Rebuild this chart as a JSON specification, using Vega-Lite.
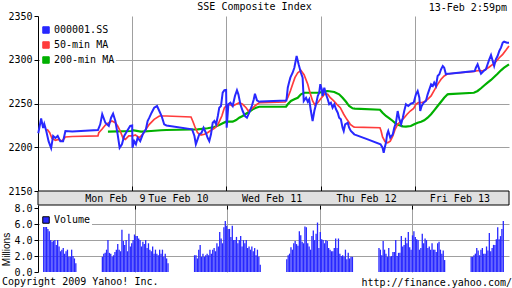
{
  "$schema": "https://vega.github.io/schema/vega-lite/v6.json",
  "padding": {"left": 1, "top": 2, "right": 4, "bottom": 0},
  "background": "white",
  "bounds": "flush",
  "spacing": 0,
  "config": {
    "font": "DejaVu Sans Mono",
    "view": {"stroke": null},
    "axis": {"labelFont": "DejaVu Sans Mono", "labelFontSize": 10, "labelColor": "black", "titleFont": "Liberation Sans", "titleFontSize": 10, "titleFontWeight": "normal", "titleColor": "black", "domainColor": "black", "tickColor": "black", "gridColor": "#a0a0a0", "gridOpacity": 1},
    "title": {"font": "DejaVu Sans Mono", "fontSize": 10, "fontWeight": "normal", "color": "black"},
    "legend": {"labelFont": "DejaVu Sans Mono", "labelFontSize": 10, "labelColor": "black"}
  },
  "title": {"text": "Copyright 2009 Yahoo! Inc.", "orient": "bottom", "anchor": "start", "frame": "bounds", "offset": -11},
  "datasets": {
    "ma200": [{"m":245,"p":2217.8},{"m":329,"p":2218.6},{"m":331,"p":2219.4},{"m":361,"p":2217.8},{"m":396,"p":2218.6},{"m":431,"p":2219.4},{"m":450,"p":2219.7},{"m":540,"p":2220.3},{"m":559,"p":2220.5},{"m":594,"p":2221.7},{"m":618,"p":2223.1},{"m":635,"p":2225.4},{"m":647,"p":2227.4},{"m":659,"p":2229.2},{"m":682,"p":2229.2},{"m":694,"p":2231.1},{"m":705,"p":2233.8},{"m":717,"p":2235.7},{"m":729,"p":2238.3},{"m":740,"p":2240.6},{"m":752,"p":2243.4},{"m":764,"p":2245.2},{"m":775,"p":2246.3},{"m":780,"p":2246.3},{"m":869,"p":2246.3},{"m":875,"p":2249.1},{"m":886,"p":2252.9},{"m":898,"p":2254.8},{"m":910,"p":2256.6},{"m":921,"p":2260.5},{"m":933,"p":2262.3},{"m":980,"p":2262.3},{"m":989,"p":2262.6},{"m":997,"p":2263.5},{"m":1015,"p":2264.3},{"m":1038,"p":2263.1},{"m":1055,"p":2260.5},{"m":1067,"p":2256.6},{"m":1079,"p":2252},{"m":1090,"p":2247.1},{"m":1102,"p":2244.5},{"m":1110,"p":2244.1},{"m":1198,"p":2242.9},{"m":1207,"p":2239.5},{"m":1219,"p":2235.7},{"m":1231,"p":2233.1},{"m":1243,"p":2230},{"m":1254,"p":2226.9},{"m":1266,"p":2225.1},{"m":1278,"p":2223.9},{"m":1289,"p":2223.5},{"m":1306,"p":2224.3},{"m":1318,"p":2226.2},{"m":1330,"p":2228},{"m":1342,"p":2229.2},{"m":1353,"p":2230.8},{"m":1365,"p":2233.8},{"m":1377,"p":2237.7},{"m":1388,"p":2242.2},{"m":1400,"p":2247.1},{"m":1412,"p":2252},{"m":1423,"p":2256.6},{"m":1435,"p":2260.5},{"m":1440,"p":2260.8},{"m":1527,"p":2262.3},{"m":1540,"p":2264.3},{"m":1552,"p":2267.4},{"m":1563,"p":2270.6},{"m":1575,"p":2273.8},{"m":1587,"p":2276.9},{"m":1598,"p":2280.3},{"m":1610,"p":2284},{"m":1622,"p":2287.9},{"m":1633,"p":2290.9},{"m":1650,"p":2294.8}],
    "ma50": [{"m":32,"p":2220.5},{"m":41,"p":2216.6},{"m":49,"p":2210.2},{"m":61,"p":2208},{"m":72,"p":2209},{"m":84,"p":2207},{"m":96,"p":2211.7},{"m":120,"p":2212.3},{"m":210,"p":2212.9},{"m":213,"p":2216.6},{"m":224,"p":2220.5},{"m":236,"p":2225.4},{"m":248,"p":2228},{"m":259,"p":2230},{"m":271,"p":2228},{"m":279,"p":2224.3},{"m":288,"p":2218.6},{"m":298,"p":2210.2},{"m":306,"p":2209},{"m":318,"p":2212.9},{"m":329,"p":2212.9},{"m":331,"p":2212.9},{"m":341,"p":2214},{"m":355,"p":2210.9},{"m":367,"p":2214.8},{"m":378,"p":2220.5},{"m":390,"p":2226.2},{"m":407,"p":2231.9},{"m":425,"p":2235.7},{"m":450,"p":2235.7},{"m":536,"p":2234.6},{"m":542,"p":2230},{"m":550,"p":2223.1},{"m":559,"p":2216.6},{"m":571,"p":2214},{"m":583,"p":2214.8},{"m":594,"p":2216.6},{"m":606,"p":2219.4},{"m":618,"p":2221.7},{"m":627,"p":2224.3},{"m":635,"p":2229.2},{"m":644,"p":2235.7},{"m":653,"p":2245.2},{"m":659,"p":2247.1},{"m":662,"p":2245.2},{"m":670,"p":2249.1},{"m":682,"p":2247.1},{"m":694,"p":2249.1},{"m":705,"p":2250.9},{"m":717,"p":2249.1},{"m":729,"p":2245.2},{"m":737,"p":2241.4},{"m":746,"p":2243.4},{"m":756,"p":2246},{"m":764,"p":2248.3},{"m":775,"p":2250.9},{"m":780,"p":2251.1},{"m":866,"p":2251.7},{"m":875,"p":2256.6},{"m":884,"p":2264.3},{"m":892,"p":2271.9},{"m":900,"p":2279.5},{"m":910,"p":2285.2},{"m":921,"p":2287.9},{"m":932,"p":2283},{"m":945,"p":2272},{"m":954,"p":2261},{"m":962,"p":2252.9},{"m":970,"p":2248.3},{"m":980,"p":2250.9},{"m":989,"p":2254.8},{"m":1005,"p":2261.2},{"m":1015,"p":2260.5},{"m":1024,"p":2256.6},{"m":1036,"p":2252.9},{"m":1047,"p":2249.1},{"m":1059,"p":2245.2},{"m":1071,"p":2237.7},{"m":1082,"p":2231.9},{"m":1094,"p":2226.2},{"m":1106,"p":2223.1},{"m":1110,"p":2223},{"m":1198,"p":2222.3},{"m":1202,"p":2218.6},{"m":1207,"p":2211.7},{"m":1216,"p":2206.3},{"m":1225,"p":2205.2},{"m":1234,"p":2207},{"m":1243,"p":2212.9},{"m":1251,"p":2220.5},{"m":1260,"p":2226.2},{"m":1272,"p":2230},{"m":1283,"p":2233.8},{"m":1293,"p":2237.7},{"m":1304,"p":2241.4},{"m":1316,"p":2244.5},{"m":1324,"p":2249.1},{"m":1332,"p":2250.9},{"m":1342,"p":2250.9},{"m":1353,"p":2252},{"m":1365,"p":2254.8},{"m":1377,"p":2258.6},{"m":1388,"p":2265.1},{"m":1400,"p":2271.9},{"m":1412,"p":2277.7},{"m":1423,"p":2281.4},{"m":1435,"p":2284},{"m":1440,"p":2284},{"m":1527,"p":2286.6},{"m":1534,"p":2287.1},{"m":1546,"p":2287.9},{"m":1558,"p":2287.1},{"m":1569,"p":2289.1},{"m":1581,"p":2291.7},{"m":1593,"p":2294.8},{"m":1604,"p":2297.8},{"m":1616,"p":2302.3},{"m":1628,"p":2306.2},{"m":1639,"p":2310.8},{"m":1650,"p":2315.7}],
    "px": [{"m":1,"p":2216},{"m":11,"p":2232.9},{"m":18,"p":2222},{"m":22,"p":2226.6},{"m":29,"p":2218.6},{"m":37,"p":2207},{"m":46,"p":2199},{"m":53,"p":2212.9},{"m":61,"p":2210.6},{"m":69,"p":2212.9},{"m":78,"p":2207},{"m":88,"p":2207},{"m":96,"p":2218.6},{"m":120,"p":2218},{"m":210,"p":2219.7},{"m":218,"p":2226.2},{"m":225,"p":2237.7},{"m":236,"p":2228},{"m":248,"p":2224.3},{"m":256,"p":2233.8},{"m":263,"p":2238.3},{"m":271,"p":2230},{"m":279,"p":2214.8},{"m":286,"p":2199.5},{"m":294,"p":2203.4},{"m":302,"p":2212.9},{"m":312,"p":2218.6},{"m":323,"p":2224.3},{"m":330,"p":2224.9},{"m":331,"p":2199.5},{"m":337,"p":2207},{"m":343,"p":2203.4},{"m":349,"p":2210.9},{"m":358,"p":2207},{"m":367,"p":2214.8},{"m":378,"p":2220.5},{"m":384,"p":2230},{"m":390,"p":2233.8},{"m":398,"p":2239.5},{"m":407,"p":2245.2},{"m":417,"p":2247.1},{"m":425,"p":2241.4},{"m":433,"p":2235.7},{"m":442,"p":2226.2},{"m":450,"p":2224.9},{"m":540,"p":2220.5},{"m":548,"p":2212.9},{"m":553,"p":2203.4},{"m":559,"p":2209},{"m":565,"p":2214.8},{"m":573,"p":2216.6},{"m":580,"p":2222.3},{"m":588,"p":2216.6},{"m":594,"p":2210.9},{"m":600,"p":2207},{"m":606,"p":2214.8},{"m":612,"p":2228},{"m":618,"p":2230},{"m":624,"p":2226.2},{"m":630,"p":2235.7},{"m":635,"p":2245.2},{"m":641,"p":2247.1},{"m":647,"p":2262.3},{"m":653,"p":2265.1},{"m":659,"p":2265.4},{"m":661,"p":2222.3},{"m":667,"p":2249.1},{"m":674,"p":2250.9},{"m":682,"p":2247.1},{"m":690,"p":2258.6},{"m":697,"p":2265.1},{"m":702,"p":2260.5},{"m":709,"p":2249.1},{"m":717,"p":2241.4},{"m":725,"p":2235.7},{"m":732,"p":2233.8},{"m":740,"p":2239.5},{"m":749,"p":2247.1},{"m":756,"p":2254.8},{"m":760,"p":2261.2},{"m":767,"p":2253.7},{"m":775,"p":2252},{"m":780,"p":2252.3},{"m":870,"p":2253.4},{"m":872,"p":2258.6},{"m":875,"p":2268},{"m":879,"p":2273.4},{"m":884,"p":2279.5},{"m":892,"p":2285.2},{"m":898,"p":2290.9},{"m":906,"p":2304.3},{"m":913,"p":2294.8},{"m":921,"p":2285.2},{"m":927,"p":2279.5},{"m":931,"p":2252.9},{"m":939,"p":2256.6},{"m":945,"p":2252},{"m":950,"p":2254.8},{"m":956,"p":2241.4},{"m":962,"p":2230},{"m":968,"p":2241.4},{"m":974,"p":2249.1},{"m":980,"p":2258.6},{"m":985,"p":2262.3},{"m":989,"p":2272},{"m":994,"p":2266.2},{"m":997,"p":2258.6},{"m":1003,"p":2268},{"m":1009,"p":2260.5},{"m":1015,"p":2254.8},{"m":1020,"p":2249.1},{"m":1026,"p":2250.9},{"m":1032,"p":2245.2},{"m":1038,"p":2249.1},{"m":1044,"p":2243.4},{"m":1050,"p":2239.5},{"m":1055,"p":2233.8},{"m":1061,"p":2231.9},{"m":1067,"p":2222.3},{"m":1071,"p":2218.6},{"m":1076,"p":2226.2},{"m":1085,"p":2228},{"m":1090,"p":2222.3},{"m":1096,"p":2218.6},{"m":1108,"p":2214.8},{"m":1110,"p":2214.5},{"m":1155,"p":2209},{"m":1200,"p":2203.4},{"m":1207,"p":2199.5},{"m":1211,"p":2193.8},{"m":1216,"p":2201.4},{"m":1219,"p":2205.2},{"m":1223,"p":2214.8},{"m":1227,"p":2218.6},{"m":1234,"p":2210.9},{"m":1243,"p":2214.8},{"m":1248,"p":2222.3},{"m":1254,"p":2228},{"m":1260,"p":2241.4},{"m":1266,"p":2231.9},{"m":1272,"p":2226.2},{"m":1278,"p":2233.8},{"m":1283,"p":2241.4},{"m":1289,"p":2249.1},{"m":1297,"p":2247.1},{"m":1306,"p":2249.8},{"m":1316,"p":2250.9},{"m":1324,"p":2260.5},{"m":1330,"p":2264.3},{"m":1336,"p":2256.6},{"m":1339,"p":2241.4},{"m":1344,"p":2247.1},{"m":1351,"p":2250.9},{"m":1359,"p":2252.9},{"m":1365,"p":2260.5},{"m":1371,"p":2266.2},{"m":1377,"p":2272},{"m":1383,"p":2270},{"m":1388,"p":2273.8},{"m":1394,"p":2270},{"m":1400,"p":2281.4},{"m":1406,"p":2283.4},{"m":1412,"p":2289.1},{"m":1418,"p":2292.9},{"m":1423,"p":2290.9},{"m":1429,"p":2283.4},{"m":1435,"p":2284},{"m":1440,"p":2284},{"m":1530,"p":2287.1},{"m":1534,"p":2290.9},{"m":1540,"p":2294.8},{"m":1546,"p":2289.1},{"m":1552,"p":2284},{"m":1561,"p":2287.1},{"m":1569,"p":2289.1},{"m":1575,"p":2294.8},{"m":1581,"p":2300.5},{"m":1587,"p":2305.4},{"m":1593,"p":2298.6},{"m":1598,"p":2292.9},{"m":1604,"p":2300.5},{"m":1610,"p":2304.3},{"m":1616,"p":2310},{"m":1622,"p":2313.8},{"m":1628,"p":2319.5},{"m":1633,"p":2320.6},{"m":1643,"p":2319.5},{"m":1650,"p":2319.5}],
    "days": [{"m":271,"label":"Mon Feb\u00a0 9"},{"m":492,"label":"Tue Feb 10"},{"m":820,"label":"Wed Feb 11"},{"m":1151,"label":"Thu Feb 12"},{"m":1478,"label":"Fri Feb 13"}],
    "vol": [
      {"m":2.5,"v":6.9},{"m":7.5,"v":6.2},{"m":12.5,"v":6.0},{"m":17.5,"v":5.4},{"m":22.5,"v":5.1},{"m":27.5,"v":4.0},{"m":32.5,"v":3.8},{"m":37.5,"v":3.9},{"m":42.5,"v":4.0},{"m":47.5,"v":3.4},{"m":52.5,"v":4.0},{"m":57.5,"v":3.2},{"m":62.5,"v":2.6},{"m":67.5,"v":2.8},{"m":72.5,"v":3.0},{"m":77.5,"v":2.3},{"m":82.5,"v":2.6},{"m":87.5,"v":2.8},{"m":92.5,"v":1.9},{"m":97.5,"v":1.9},{"m":102.5,"v":2.8},{"m":107.5,"v":2.0},{"m":112.5,"v":1.7},{"m":117.5,"v":1.1},
      {"m":212.5,"v":1.9},{"m":217.5,"v":2.3},{"m":222.5,"v":2.4},{"m":227.5,"v":2.8},{"m":232.5,"v":4.0},{"m":237.5,"v":2.4},{"m":242.5,"v":2.3},{"m":247.5,"v":1.9},{"m":252.5,"v":2.1},{"m":257.5,"v":2.5},{"m":262.5,"v":2.8},{"m":267.5,"v":3.5},{"m":272.5,"v":2.8},{"m":277.5,"v":2.6},{"m":282.5,"v":5.3},{"m":287.5,"v":3.9},{"m":292.5,"v":3.4},{"m":297.5,"v":4.0},{"m":302.5,"v":2.6},{"m":307.5,"v":4.8},{"m":312.5,"v":3.2},{"m":317.5,"v":3.6},{"m":322.5,"v":4.0},{"m":327.5,"v":4.7},
      {"m":332.5,"v":4.5},{"m":337.5,"v":4.5},{"m":342.5,"v":4.2},{"m":347.5,"v":4.0},{"m":352.5,"v":3.2},{"m":357.5,"v":3.8},{"m":362.5,"v":3.5},{"m":367.5,"v":4.0},{"m":372.5,"v":3.0},{"m":377.5,"v":3.6},{"m":382.5,"v":2.8},{"m":387.5,"v":2.6},{"m":392.5,"v":3.2},{"m":397.5,"v":2.3},{"m":402.5,"v":2.8},{"m":407.5,"v":2.3},{"m":412.5,"v":2.1},{"m":417.5,"v":2.8},{"m":422.5,"v":2.3},{"m":427.5,"v":2.8},{"m":432.5,"v":1.9},{"m":437.5,"v":2.3},{"m":442.5,"v":1.7},{"m":447.5,"v":1.1},
      {"m":542.5,"v":2.1},{"m":547.5,"v":2.1},{"m":552.5,"v":1.7},{"m":557.5,"v":2.8},{"m":562.5,"v":3.4},{"m":567.5,"v":1.9},{"m":572.5,"v":2.3},{"m":577.5,"v":1.9},{"m":582.5,"v":2.1},{"m":587.5,"v":2.3},{"m":592.5,"v":2.1},{"m":597.5,"v":2.8},{"m":602.5,"v":2.3},{"m":607.5,"v":2.8},{"m":612.5,"v":3.0},{"m":617.5,"v":2.6},{"m":622.5,"v":3.6},{"m":627.5,"v":3.2},{"m":632.5,"v":5.0},{"m":637.5,"v":4.2},{"m":642.5,"v":3.6},{"m":647.5,"v":5.6},{"m":652.5,"v":6.4},{"m":657.5,"v":5.8},
      {"m":662.5,"v":5.4},{"m":667.5,"v":5.4},{"m":672.5,"v":4.4},{"m":677.5,"v":5.8},{"m":682.5,"v":4.0},{"m":687.5,"v":4.0},{"m":692.5,"v":4.4},{"m":697.5,"v":3.6},{"m":702.5,"v":4.0},{"m":707.5,"v":4.5},{"m":712.5,"v":3.2},{"m":717.5,"v":4.0},{"m":722.5,"v":3.6},{"m":727.5,"v":4.0},{"m":732.5,"v":3.0},{"m":737.5,"v":3.2},{"m":742.5,"v":2.8},{"m":747.5,"v":3.2},{"m":752.5,"v":2.6},{"m":757.5,"v":3.0},{"m":762.5,"v":2.1},{"m":767.5,"v":2.8},{"m":772.5,"v":1.9},{"m":777.5,"v":0.9},
      {"m":872.5,"v":1.6},{"m":877.5,"v":2.1},{"m":882.5,"v":2.3},{"m":887.5,"v":3.1},{"m":892.5,"v":2.8},{"m":897.5,"v":3.6},{"m":902.5,"v":3.9},{"m":907.5,"v":3.5},{"m":912.5,"v":3.3},{"m":917.5,"v":5.1},{"m":922.5,"v":4.6},{"m":927.5,"v":3.8},{"m":932.5,"v":3.6},{"m":937.5,"v":5.7},{"m":942.5,"v":5.6},{"m":947.5,"v":3.6},{"m":952.5,"v":3.2},{"m":957.5,"v":2.8},{"m":962.5,"v":4.5},{"m":967.5,"v":5.2},{"m":972.5,"v":4.0},{"m":977.5,"v":4.8},{"m":982.5,"v":6.2},{"m":987.5,"v":3.0},
      {"m":992.5,"v":5.0},{"m":997.5,"v":4.1},{"m":1002.5,"v":4.0},{"m":1007.5,"v":3.6},{"m":1012.5,"v":4.0},{"m":1017.5,"v":3.9},{"m":1022.5,"v":3.0},{"m":1027.5,"v":2.8},{"m":1032.5,"v":2.6},{"m":1037.5,"v":2.6},{"m":1042.5,"v":3.0},{"m":1047.5,"v":4.2},{"m":1052.5,"v":3.0},{"m":1057.5,"v":4.2},{"m":1062.5,"v":2.3},{"m":1067.5,"v":2.0},{"m":1072.5,"v":2.1},{"m":1077.5,"v":1.9},{"m":1082.5,"v":2.8},{"m":1087.5,"v":1.6},{"m":1092.5,"v":2.4},{"m":1097.5,"v":1.7},{"m":1102.5,"v":1.9},{"m":1107.5,"v":1.9},
      {"m":1202.5,"v":3.0},{"m":1207.5,"v":2.8},{"m":1212.5,"v":2.1},{"m":1217.5,"v":3.9},{"m":1222.5,"v":2.8},{"m":1227.5,"v":2.3},{"m":1232.5,"v":1.9},{"m":1237.5,"v":3.0},{"m":1242.5,"v":1.9},{"m":1247.5,"v":2.0},{"m":1252.5,"v":2.5},{"m":1257.5,"v":2.5},{"m":1262.5,"v":4.0},{"m":1267.5,"v":2.0},{"m":1272.5,"v":2.4},{"m":1277.5,"v":2.4},{"m":1282.5,"v":4.5},{"m":1287.5,"v":3.2},{"m":1292.5,"v":3.4},{"m":1297.5,"v":4.3},{"m":1302.5,"v":3.6},{"m":1307.5,"v":5.0},{"m":1312.5,"v":3.1},{"m":1317.5,"v":2.8},
      {"m":1322.5,"v":4.6},{"m":1327.5,"v":5.1},{"m":1332.5,"v":4.4},{"m":1337.5,"v":4.1},{"m":1342.5,"v":4.0},{"m":1347.5,"v":2.8},{"m":1352.5,"v":3.0},{"m":1357.5,"v":4.8},{"m":1362.5,"v":3.6},{"m":1367.5,"v":4.2},{"m":1372.5,"v":4.0},{"m":1377.5,"v":3.0},{"m":1382.5,"v":3.2},{"m":1387.5,"v":2.8},{"m":1392.5,"v":3.6},{"m":1397.5,"v":2.8},{"m":1402.5,"v":2.8},{"m":1407.5,"v":2.5},{"m":1412.5,"v":3.6},{"m":1417.5,"v":3.8},{"m":1422.5,"v":2.8},{"m":1427.5,"v":2.3},{"m":1432.5,"v":2.7},{"m":1437.5,"v":1.5},
      {"m":1532.5,"v":1.9},{"m":1537.5,"v":1.9},{"m":1542.5,"v":2.1},{"m":1547.5,"v":2.3},{"m":1552.5,"v":3.0},{"m":1557.5,"v":2.7},{"m":1562.5,"v":2.1},{"m":1567.5,"v":2.8},{"m":1572.5,"v":3.0},{"m":1577.5,"v":2.3},{"m":1582.5,"v":2.3},{"m":1587.5,"v":3.2},{"m":1592.5,"v":2.7},{"m":1597.5,"v":4.9},{"m":1602.5,"v":2.6},{"m":1607.5,"v":3.0},{"m":1612.5,"v":3.4},{"m":1617.5,"v":3.4},{"m":1622.5,"v":4.1},{"m":1627.5,"v":5.6},{"m":1632.5,"v":4.1},{"m":1637.5,"v":4.5},{"m":1642.5,"v":5.4},{"m":1647.5,"v":6.4}
    ]
  },
  "vconcat": [
    {
      "name": "price",
      "width": 471,
      "height": 175,
      "title": {"text": "SSE Composite Index", "anchor": "middle", "frame": "group", "offset": -9, "dx": -19},
      "layer": [
        {
          "data": {"name": "ma200"},
          "mark": {"type": "line", "strokeWidth": 2.2},
          "encoding": {
            "x": {"field": "m", "type": "quantitative", "scale": {"domain": [0, 1650], "nice": false, "zero": false},
                  "axis": {"orient": "bottom", "values": [330, 660, 990, 1320], "labels": false, "domain": false, "ticks": true, "tickSize": -5, "grid": true, "title": null}},
            "y": {"field": "p", "type": "quantitative", "scale": {"domain": [2150, 2350], "nice": false, "zero": false},
                  "axis": {"values": [2150, 2200, 2250, 2300, 2350], "format": "d", "title": null, "tickSize": 4, "labelPadding": 2,
                           "gridColor": {"condition": {"test": "datum.value == 2350 || datum.value == 2150", "value": "transparent"}, "value": "#a0a0a0"}}},
            "color": {"datum": "200-min MA", "type": "nominal",
                      "scale": {"domain": ["000001.SS", "50-min MA", "200-min MA"], "range": ["#2828ff", "#ff3c3c", "#00b000"]},
                      "legend": {"title": null, "orient": "none", "legendX": 2, "legendY": 8, "symbolType": "square", "symbolSize": 42, "fillColor": "white", "padding": 1, "rowPadding": 3, "labelOffset": 3,
                                 "encode": {"symbols": {"update": {"fill": {"signal": "datum.value === '000001.SS' ? '#2828ff' : datum.value === '50-min MA' ? '#ff3c3c' : '#00b000'"}, "stroke": {"value": "black"}, "strokeWidth": {"value": 1}, "opacity": {"value": 1}}}}}}
          }
        },
        {
          "data": {"name": "ma50"},
          "mark": {"type": "line", "strokeWidth": 1.7},
          "encoding": {
            "x": {"field": "m", "type": "quantitative"},
            "y": {"field": "p", "type": "quantitative"},
            "color": {"datum": "50-min MA", "type": "nominal"}
          }
        },
        {
          "data": {"name": "px"},
          "mark": {"type": "line", "strokeWidth": 2},
          "encoding": {
            "x": {"field": "m", "type": "quantitative"},
            "y": {"field": "p", "type": "quantitative"},
            "color": {"datum": "000001.SS", "type": "nominal"}
          }
        },
        {
          "data": {"values": [{}]},
          "mark": {"type": "text", "align": "right", "baseline": "bottom", "dy": -3, "dx": -2, "font": "DejaVu Sans Mono", "fontSize": 10, "color": "black"},
          "encoding": {
            "x": {"datum": 1650, "type": "quantitative"},
            "y": {"datum": 2350, "type": "quantitative"},
            "text": {"value": "13-Feb 2:59pm"}
          }
        }
      ]
    },
    {
      "width": 471,
      "height": 14,
      "layer": [
        {
          "data": {"values": [{}]},
          "mark": {"type": "rect", "fill": "#e0e0e0", "stroke": "black", "strokeWidth": 1},
          "encoding": {
            "x": {"datum": 0, "type": "quantitative", "scale": {"domain": [0, 1650], "nice": false, "zero": false}, "axis": null},
            "x2": {"datum": 1650}
          }
        },
        {
          "data": {"name": "days"},
          "mark": {"type": "text", "font": "DejaVu Sans Mono", "fontSize": 10, "color": "black", "baseline": "middle", "dy": 1},
          "encoding": {
            "x": {"field": "m", "type": "quantitative"},
            "text": {"field": "label"}
          }
        }
      ]
    },
    {
      "name": "vol",
      "width": 471,
      "height": 67,
      "title": {"text": "http://finance.yahoo.com/", "orient": "bottom", "anchor": "end", "frame": "group", "offset": 1, "dx": 3},
      "data": {"name": "vol"},
      "mark": {"type": "bar", "size": 1.3},
      "encoding": {
        "x": {"field": "m", "type": "quantitative", "scale": {"domain": [0, 1650], "nice": false, "zero": false},
              "axis": {"orient": "top", "values": [330, 660, 990, 1320], "labels": false, "domain": false, "tickSize": -4, "grid": true, "title": null}},
        "y": {"field": "v", "type": "quantitative", "scale": {"domain": [0, 8.4], "nice": false},
              "axis": {"values": [0, 2, 4, 6, 8], "format": ".1f", "title": "Millions", "titlePadding": 2, "titleY": 44, "tickSize": 4, "labelPadding": 2,
                       "gridColor": {"condition": {"test": "datum.value == 0 || datum.value == 8", "value": "transparent"}, "value": "#a0a0a0"}}},
        "color": {"datum": "Volume", "type": "nominal", "scale": {"domain": ["Volume"], "range": ["#2828ff"]},
                  "legend": {"title": null, "orient": "none", "legendX": 2, "legendY": 9, "symbolType": "square", "symbolSize": 42, "fillColor": "white", "padding": 1, "labelOffset": 3,
                             "encode": {"symbols": {"update": {"fill": {"value": "#2828ff"}, "stroke": {"value": "black"}, "strokeWidth": {"value": 1}, "opacity": {"value": 1}}}}}}
      }
    }
  ],
  "resolve": {"scale": {"color": "independent"}, "legend": {"color": "independent"}}
}
